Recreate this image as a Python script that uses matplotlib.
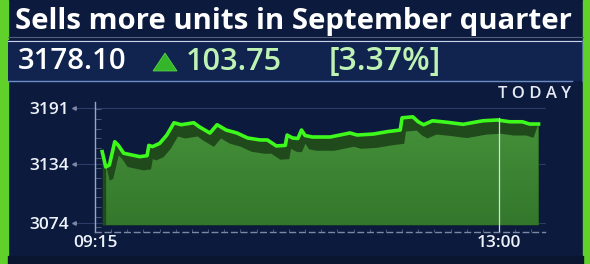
import matplotlib
matplotlib.use("Agg")
import matplotlib.pyplot as plt
import numpy as np
from matplotlib.patches import Rectangle, Polygon
from matplotlib.ticker import MultipleLocator
from matplotlib.colors import LinearSegmentedColormap

# ---------------- data ----------------
title = "Sells more units in September quarter"
last_price = "3178.10"
change = "103.75"
change_pct = "[3.37%]"
x_tick_pos = [0, 225]             # minutes after 09:15
x_tick_labels = ["09:15", "13:00"]
y_ticks = [3074, 3134, 3191]
minutes = [4, 6, 8, 11, 13, 16, 21, 25, 29, 30, 32, 36, 40, 44, 48, 55, 58, 64, 68,
           73, 79, 85, 92, 96, 101, 106, 107, 110, 113, 115, 117, 121, 131, 142, 146,
           155, 163, 170, 171, 177, 180, 183, 188, 196, 205, 216, 224, 231, 238, 242, 247]
prices = [3146.6, 3131.0, 3133.0, 3156.7, 3153.0, 3145.0, 3143.0, 3141.5, 3142.5, 3153.0,
          3151.7, 3155.0, 3163.5, 3176.0, 3174.0, 3176.0, 3172.0, 3165.5, 3174.0, 3168.6,
          3165.6, 3160.5, 3158.5, 3158.5, 3152.4, 3153.0, 3163.5, 3160.5, 3160.0, 3168.6,
          3163.0, 3161.5, 3161.5, 3165.6, 3163.5, 3164.5, 3167.0, 3168.6, 3181.0, 3182.0,
          3177.0, 3174.0, 3178.0, 3176.5, 3174.4, 3178.0, 3178.8, 3177.0, 3177.0, 3174.7, 3174.7]

# ---------------- style ----------------
W, H = 590, 264
BG = "#0c1a3d"
BOX = "#112450"
GREEN_BAR = "#5fd12a"
LINE = "#3dfa1c"
SHADOW = "#204a1c"
FILL_TOP = "#46923a"
FILL_BOT = "#33772c"
PALE = "#bff3b4"
GRID = "#2a3b66"
AXC = "#9aa6c2"
FONT = "Open Sans"
NUMFONT = "Open Sans"

fig = plt.figure(figsize=(W / 100, H / 100), dpi=100)
fig.patch.set_facecolor(BG)
bg = fig.add_axes([0, 0, 1, 1])
bg.set_xlim(0, W)
bg.set_ylim(H, 0)
bg.axis("off")
bg.set_facecolor(BG)
renderer = fig.canvas.get_renderer()


def fit_text(ax, x, y, s, width, size, **kw):
    t = ax.text(x, y, s, fontsize=size, **kw)
    w = t.get_window_extent(renderer).width
    t.set_fontsize(size * width / w)
    return t


# green side bars
bg.add_patch(Rectangle((0, 0), 7.5, H, color=GREEN_BAR, zorder=1))
bg.add_patch(Rectangle((583, 0), 7, H, color=GREEN_BAR, zorder=1))
bg.add_patch(Rectangle((7.5, 256), 575.5, 8, color="#0a1530", zorder=1))

# title
fit_text(bg, 15, 22, title, 558, 20, color="white", fontweight="bold",
         family=FONT, va="center", ha="left", zorder=3)
bg.plot([7.5, 583], [37, 37], color="#55607a", lw=0.8, zorder=2)

# value box
bg.add_patch(Rectangle((8, 40), 574, 41, facecolor=BOX, edgecolor="none", zorder=1))
bg.plot([8, 582], [40.5, 40.5], color="#c9d3e6", lw=0.8, zorder=2)
bg.plot([8, 572], [81, 81], color="#6c8cc4", lw=1.0, zorder=2)
bg.plot([581.5, 581.5], [40, 81], color="#4a6494", lw=0.8, zorder=2)

fit_text(bg, 18, 61.5, last_price, 109, 18, color="white", family=NUMFONT,
         fontweight="semibold", va="center", ha="left", zorder=3)
bg.add_patch(Polygon([[153, 71], [177, 71], [165, 53]], closed=True,
                     facecolor="#35b52a", edgecolor="#5ee04a", lw=0.5, zorder=3))
fit_text(bg, 186, 61.5, change, 96, 18, color=PALE, family=NUMFONT,
         fontweight="semibold", va="center", ha="left", zorder=3)
fit_text(bg, 329, 61.5, change_pct, 112, 18, color=PALE, family=NUMFONT,
         fontweight="semibold", va="center", ha="left", zorder=3)

# TODAY
fit_text(bg, 534.5, 93.5, "T O D A Y", 73, 8, color="#e6ebf5", family=FONT,
         fontweight="semibold", ha="center", va="center", zorder=3)

# ---------------- chart ----------------
px_per_min = (499 - 95) / 225.0
units_per_px = (3191 - 3074) / (223 - 108.0)
left_px, right_px, top_px, bot_px = 95, 545, 100, 232
ax = fig.add_axes([left_px / W, 1 - bot_px / H, (right_px - left_px) / W, (bot_px - top_px) / H])
ax.patch.set_alpha(0)
xmax = (right_px - left_px) / px_per_min
ymin = 3191 - (bot_px - 108) * units_per_px
ymax = 3191 + (108 - top_px) * units_per_px

t = np.array(minutes, dtype=float)
p = np.array(prices, dtype=float)
base = 3072.0
drop = 14.0
shift = 2.2

# shadow (dark extrusion)
ax.fill_between(t, base, p, color=SHADOW, lw=0, zorder=2)
# light face with gradient
top_face = p - drop
top_face[-1] = p[-1]
tf = t + shift
tf[-1] = t[-1]
face = ax.fill_between(tf, base, top_face, color="none", lw=0, zorder=3)
grad = np.linspace(0, 1, 256).reshape(-1, 1)
cmap = LinearSegmentedColormap.from_list("g", [FILL_BOT, FILL_TOP])
im = ax.imshow(grad, cmap=cmap, aspect="auto", origin="lower",
               extent=[t[0], t[-1] + shift, base, p.max()], zorder=3)
im.set_clip_path(face.get_paths()[0], transform=ax.transData)
ax.set_xlim(0, xmax)
ax.set_ylim(ymin, ymax)

ax.plot(t, p, color=LINE, lw=2.6, zorder=5, solid_joinstyle="round")

# gridlines, extending left to the tick arrows
for yv in y_ticks:
    ax.plot([-(left_px - 72) / (right_px - left_px), 1.0], [yv, yv],
            transform=ax.get_yaxis_transform(), color=GRID, lw=0.8,
            clip_on=False, zorder=1)
    ax.plot([-(left_px - 74) / (right_px - left_px)], [yv], marker="<", ms=2.5,
            color="#7d88a6", transform=ax.get_yaxis_transform(), clip_on=False, zorder=1)

# 13:00 marker line
ax.axvline(225, ymin=0, ymax=(bot_px - 118) / (bot_px - top_px), color="#d4dbe9",
           lw=0.9, zorder=6)

# axes styling
for s in ["top", "right"]:
    ax.spines[s].set_visible(False)
ax.spines["left"].set_color(AXC)
ax.spines["left"].set_linewidth(1.0)
ax.spines["left"].set_bounds(ymin, 3191 + (108 - 102) * units_per_px)
ax.spines["bottom"].set_color("#7c88a6")
ax.spines["bottom"].set_linewidth(1.0)
ax.spines["bottom"].set_linestyle((0, (4, 3)))

ax.set_yticks(y_ticks)
ax.set_yticklabels([str(v) for v in y_ticks])
ax.set_xticks(x_tick_pos)
ax.set_xticklabels(x_tick_labels)
ax.tick_params(axis="y", which="major", length=0, pad=19, labelsize=12.5,
               labelcolor="#eef2fa")
ax.tick_params(axis="x", which="major", length=0, pad=2, labelsize=12.5,
               labelcolor="#eef2fa")
for lab in ax.get_xticklabels() + ax.get_yticklabels():
    lab.set_family(FONT)
    lab.set_fontweight("semibold")
ax.yaxis.set_minor_locator(MultipleLocator(10))
ax.xaxis.set_minor_locator(MultipleLocator(9))
ax.tick_params(axis="y", which="minor", direction="in", length=4, width=0.6, color="#56627f")
ax.tick_params(axis="x", which="minor", direction="in", length=2, width=0.6, color="#56627f")

fig.savefig("out.png", dpi=100, facecolor=BG)
